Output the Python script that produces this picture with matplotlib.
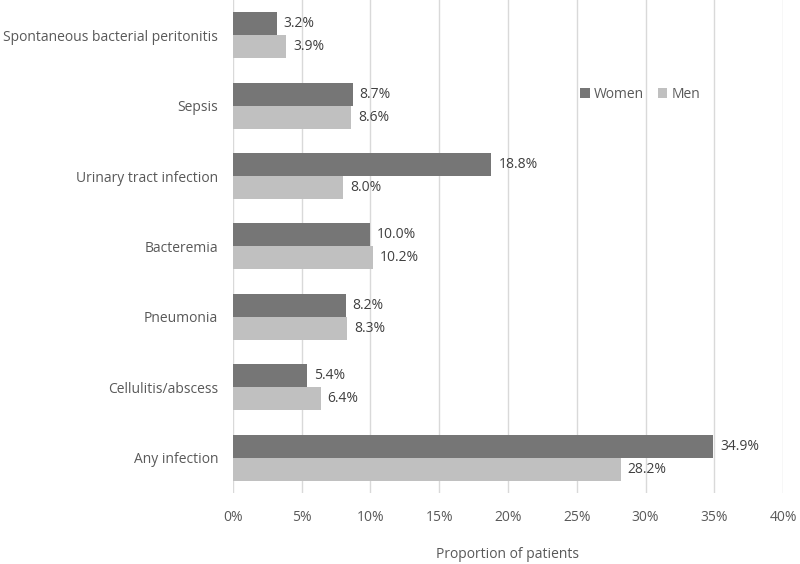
import numpy as np
import matplotlib.pyplot as plt
from matplotlib.ticker import FuncFormatter

categories = ["Spontaneous bacterial peritonitis", "Sepsis", "Urinary tract infection",
              "Bacteremia", "Pneumonia", "Cellulitis/abscess", "Any infection"]
women = [3.2, 8.7, 18.8, 10.0, 8.2, 5.4, 34.9]
men = [3.9, 8.6, 8.0, 10.2, 8.3, 6.4, 28.2]
xticks = [0, 5, 10, 15, 20, 25, 30, 35, 40]

text_color = "#595959"
plt.rcParams['font.family'] = ['Open Sans', 'DejaVu Sans']

fig = plt.figure(figsize=(8, 5.64), dpi=100)
ax = fig.add_axes([0.291, 0.126, 0.688, 0.874])

y = np.arange(len(categories))
h = 0.327
bw = ax.barh(y - h / 2, women, height=h, color="#767676", label="Women", zorder=3)
bm = ax.barh(y + h / 2, men, height=h, color="#c0c0c0", label="Men", zorder=3)

# value labels just right of each bar
for bars, vals in ((bw, women), (bm, men)):
    for b, v in zip(bars, vals):
        ax.text(b.get_width() + 0.5, b.get_y() + b.get_height() / 2, f"{v:.1f}%",
                va="center", ha="left", fontsize=10, color="#404040")

ax.set_ylim(len(categories) - 0.5, -0.5)
ax.set_xlim(0, 40)
ax.set_xticks(xticks)
ax.xaxis.set_major_formatter(FuncFormatter(lambda v, p: f"{v:.0f}%"))
ax.set_yticks(y)
ax.set_yticklabels(categories)
ax.tick_params(axis="both", length=0, labelsize=10, colors=text_color)
ax.tick_params(axis="y", pad=10.5)
ax.tick_params(axis="x", pad=12)
ax.grid(axis="x", color="#d9d9d9", linewidth=1, zorder=0)
for s in ax.spines.values():
    s.set_visible(False)

ax.set_xlabel("Proportion of patients", fontsize=10, color=text_color, labelpad=16)

ax.legend(loc="center", bbox_to_anchor=(0.74, 0.808), ncol=2, frameon=False,
          fontsize=10, handlelength=0.7, handleheight=0.7, handletextpad=0.3,
          columnspacing=1.0, labelcolor=text_color)

fig.savefig("out.png", dpi=100)
